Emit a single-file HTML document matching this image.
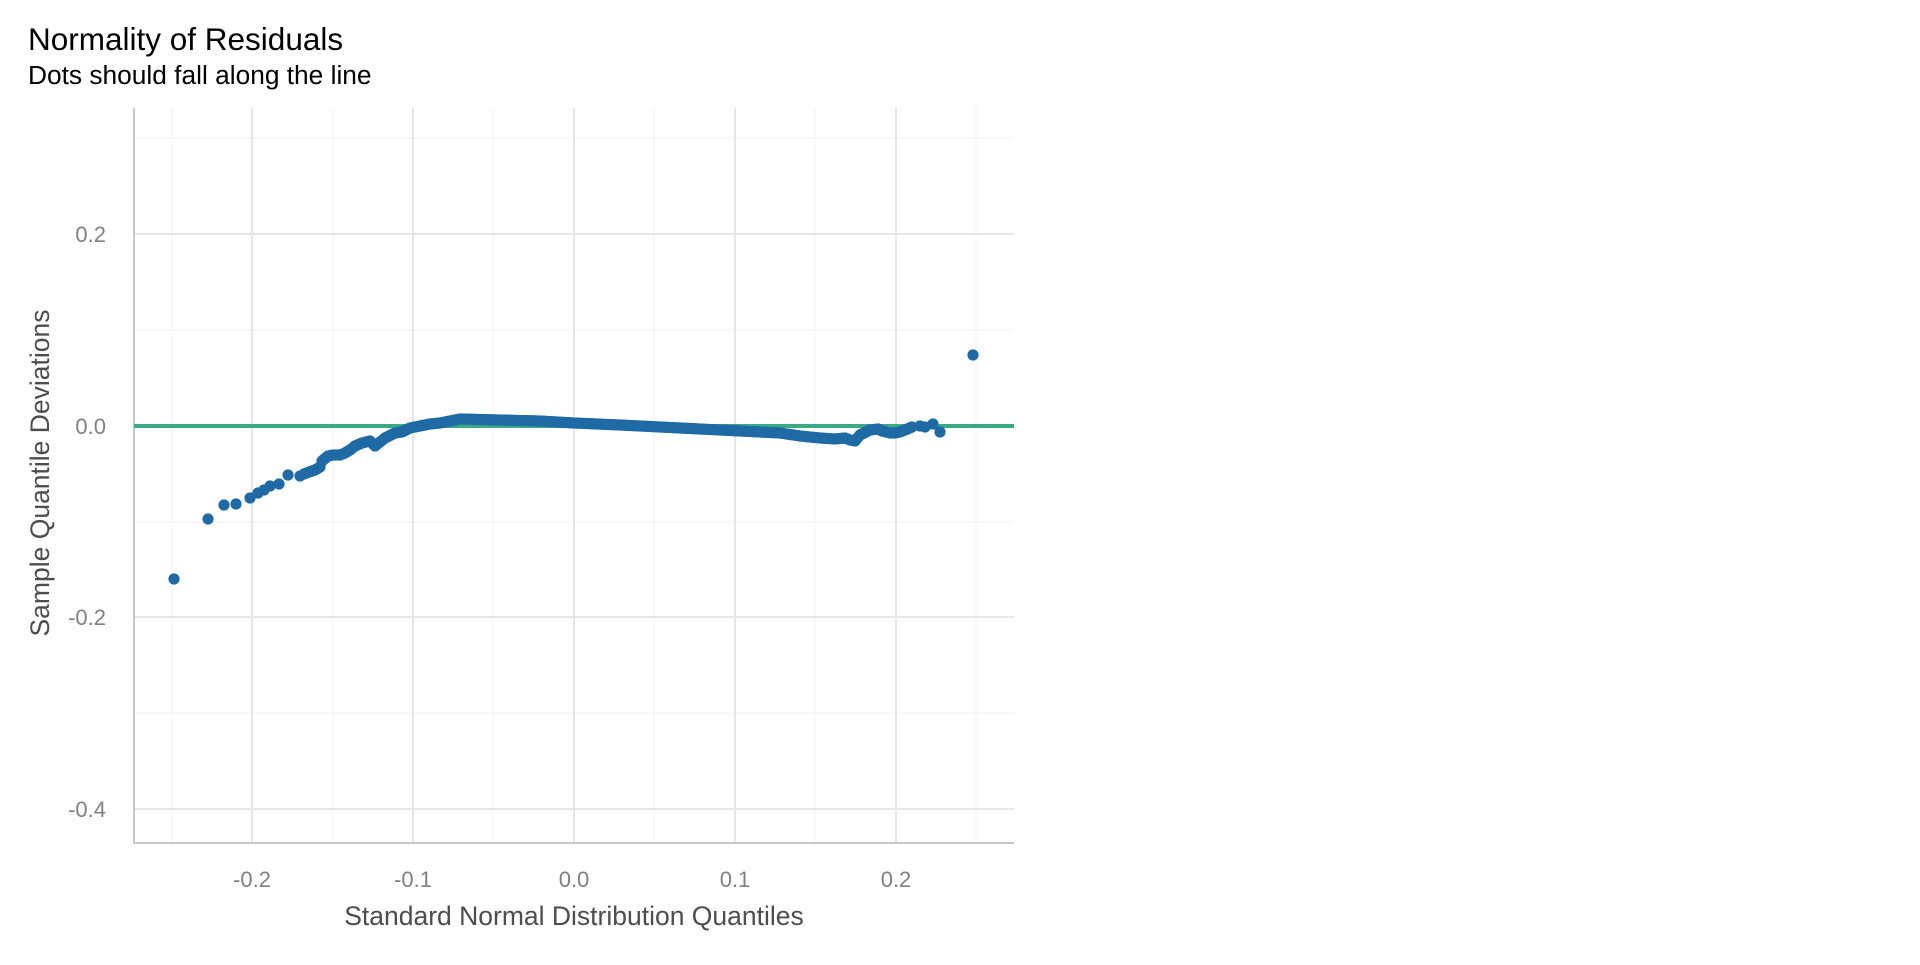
<!DOCTYPE html>
<html><head><meta charset="utf-8"><style>
body{margin:0;background:#fff;width:1920px;height:960px;overflow:hidden;font-family:"Liberation Sans",sans-serif}
</style></head><body>
<svg id="s" width="1920" height="960" xmlns="http://www.w3.org/2000/svg" font-family="Liberation Sans, sans-serif">
<rect width="1920" height="960" fill="#fff"/>
<g stroke="#f3f3f3" stroke-width="1.2">
<line x1="134" x2="1014" y1="138" y2="138"/><line x1="134" x2="1014" y1="330" y2="330"/>
<line x1="134" x2="1014" y1="522" y2="522"/><line x1="134" x2="1014" y1="713" y2="713"/>
<line x1="172" x2="172" y1="108" y2="843"/><line x1="333" x2="333" y1="108" y2="843"/>
<line x1="493" x2="493" y1="108" y2="843"/><line x1="654" x2="654" y1="108" y2="843"/>
<line x1="815" x2="815" y1="108" y2="843"/><line x1="976" x2="976" y1="108" y2="843"/>
</g>
<g stroke="#e6e6e6" stroke-width="2">
<line x1="134" x2="1014" y1="234" y2="234"/><line x1="134" x2="1014" y1="426" y2="426"/>
<line x1="134" x2="1014" y1="617" y2="617"/><line x1="134" x2="1014" y1="809" y2="809"/>
<line x1="252" x2="252" y1="108" y2="843"/><line x1="413" x2="413" y1="108" y2="843"/>
<line x1="574" x2="574" y1="108" y2="843"/><line x1="735" x2="735" y1="108" y2="843"/>
<line x1="896" x2="896" y1="108" y2="843"/>
</g>
<g stroke="#c8c8c8" stroke-width="2"><line x1="134" x2="134" y1="108" y2="844"/><line x1="133" x2="1014" y1="843" y2="843"/></g>
<line x1="134" x2="1014" y1="426" y2="426" stroke="#3aaa85" stroke-width="4"/>
<g id="pts" fill="#1f6aa5"></g>
<g fill="#808080" font-size="22" text-anchor="end">
<text x="106" y="242">0.2</text><text x="106" y="434">0.0</text><text x="106" y="625">-0.2</text><text x="106" y="817">-0.4</text>
</g>
<g fill="#808080" font-size="22" text-anchor="middle">
<text x="252" y="887">-0.2</text><text x="413" y="887">-0.1</text><text x="574" y="887">0.0</text><text x="735" y="887">0.1</text><text x="896" y="887">0.2</text>
</g>
<text x="574" y="925" text-anchor="middle" font-size="26.5" fill="#4d4d4d">Standard Normal Distribution Quantiles</text>
<text transform="translate(49,473) rotate(-90)" text-anchor="middle" font-size="26.5" fill="#4d4d4d">Sample Quantile Deviations</text>
<text x="28" y="50" font-size="31.5" fill="#000">Normality of Residuals</text>
<text x="28" y="84" font-size="26.3" fill="#000">Dots should fall along the line</text>
</svg>
<script>
var g=document.getElementById('pts');
function c(x,y){var e=document.createElementNS('http://www.w3.org/2000/svg','circle');e.setAttribute('cx',x);e.setAttribute('cy',y);e.setAttribute('r',5.6);g.appendChild(e);}
var iso=[[174,579],[208,519],[224,505],[236,504],[250,498],[258,493],[264,490],[270,486],[279,484],[288,475],[300,476],[940,432],[973,355],[920,426]];
iso.forEach(function(p){c(p[0],p[1]);});
var path=[[304,474],[309,472],[315,470],[320,467],[322,461],[328,456],[333,455],[340,455],[345,453],[350,450],[355,446],[362,443],[370,441],[375,446],[380,442],[385,438],[395,433],[402,432],[410,428],[420,426],[430,424],[440,423],[460,419],[500,420],[540,421],[574,423],[620,425],[660,427],[700,429],[740,431],[780,433],[800,436],[820,438],[835,439],[845,438],[850,440],[855,441],[860,435],[870,430],[878,429],[882,431],[890,433],[895,433],[900,432],[905,430],[912,427]];
for(var i=0;i<path.length-1;i++){var a=path[i],b=path[i+1];var d=Math.max(1,Math.round((b[0]-a[0])/1.5));for(var k=0;k<d;k++){var t=k/d;c(a[0]+(b[0]-a[0])*t,a[1]+(b[1]-a[1])*t);}}
c(912,427);c(925,427);c(933,424);
</script>
</body></html>
